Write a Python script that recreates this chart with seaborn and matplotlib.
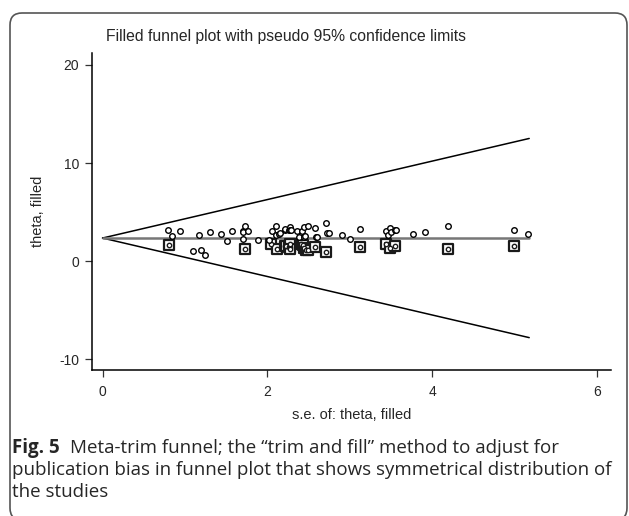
import matplotlib
matplotlib.use('Agg')
import matplotlib.pyplot as plt
from matplotlib.patches import FancyBboxPatch
import seaborn as sns
import pandas as pd
import numpy as np

# observed studies (circles)
study_se = [0.80, 0.84, 0.94, 1.10, 1.17, 1.20, 1.24, 1.31, 1.44, 1.51, 1.57,
            1.70, 1.71, 1.73, 1.77, 1.70, 1.89, 2.02, 2.06, 2.11, 2.10, 2.14,
            2.16, 2.21, 2.22, 2.26, 2.27, 2.28, 2.29, 2.36, 2.38, 2.42, 2.44,
            2.45, 2.46, 2.49, 2.58, 2.59, 2.60, 2.71, 2.72, 2.75, 2.91, 3.00,
            3.12, 3.44, 3.47, 3.49, 3.50, 3.55, 3.56, 3.77, 3.91, 4.19, 5.00,
            5.17]
study_theta = [3.12, 2.60, 3.10, 0.98, 2.64, 1.15, 0.58, 2.94, 2.80, 2.03, 3.10,
               3.05, 3.00, 3.57, 3.05, 2.27, 2.20, 2.20, 3.08, 3.57, 2.67, 2.80,
               2.87, 3.20, 3.32, 3.15, 3.48, 3.22, 3.15, 3.02, 2.47, 3.10, 2.50,
               3.48, 2.54, 3.62, 3.38, 2.47, 2.50, 3.89, 2.91, 2.91, 2.64, 2.30,
               3.32, 3.08, 2.67, 3.42, 2.97, 3.18, 3.20, 2.81, 2.97, 3.62, 3.18,
               2.81]

# filled (imputed) studies (squares)
filled_se = [0.81, 1.73, 2.05, 2.12, 2.21, 2.23, 2.26, 2.27, 2.28, 2.28, 2.41,
             2.43, 2.44, 2.47, 2.49, 2.58, 2.71, 3.12, 3.44, 3.49, 3.55, 4.19,
             5.00]
filled_theta = [1.66, 1.22, 1.73, 1.22, 1.52, 1.55, 1.39, 1.45, 1.73, 1.19, 1.73,
                1.62, 1.29, 1.12, 1.12, 1.39, 0.88, 1.45, 1.73, 1.29, 1.55, 1.19,
                1.55]

pooled_theta = 2.35
se_max = 5.18

x_ticks = [0, 2, 4, 6]
y_ticks = [-10, 0, 10, 20]

sns.set_theme(style='ticks')
plt.rcParams['font.family'] = ['Liberation Sans', 'DejaVu Sans']
plt.rcParams['axes.unicode_minus'] = False

fig = plt.figure(figsize=(6.29, 5.16), dpi=100)
ax = fig.add_axes([0.146, 0.283, 0.825, 0.614])

studies = pd.DataFrame({'se': study_se, 'theta': study_theta})
filled = pd.DataFrame({'se': filled_se, 'theta': filled_theta})

# pseudo 95% limits
se_grid = np.array([0, se_max])
limits = pd.DataFrame({
    'se': np.concatenate([se_grid, se_grid, se_grid]),
    'theta': np.concatenate([pooled_theta + 1.96 * se_grid,
                             pooled_theta - 1.96 * se_grid,
                             np.full(2, pooled_theta)]),
    'line': ['upper'] * 2 + ['lower'] * 2 + ['centre'] * 2,
})
sns.lineplot(data=limits[limits.line != 'centre'], x='se', y='theta', units='line',
             estimator=None, color='black', linewidth=1.1, ax=ax)
sns.lineplot(data=limits[limits.line == 'centre'], x='se', y='theta',
             estimator=None, color='#777777', linewidth=1.8, ax=ax)

sns.scatterplot(data=filled, x='se', y='theta', marker='s', s=45,
                facecolor='white', edgecolor='#1a1a1a', linewidth=1.6, ax=ax, zorder=3)
sns.scatterplot(data=filled, x='se', y='theta', marker='o', s=10,
                facecolor='white', edgecolor='#1a1a1a', linewidth=1.0, ax=ax, zorder=4)
sns.scatterplot(data=studies, x='se', y='theta', marker='o', s=16,
                facecolor='white', edgecolor='black', linewidth=1.0, ax=ax, zorder=4)

ax.set_xlim(-0.13, 6.17)
ax.set_ylim(-11.1, 21.2)
ax.set_xticks(x_ticks)
ax.set_yticks(y_ticks)
ax.tick_params(axis='both', labelsize=10, length=5, width=0.9, color='#333333')
ax.tick_params(axis='x', pad=6)
ax.tick_params(axis='y', pad=4)
for side in ['left', 'bottom']:
    ax.spines[side].set_linewidth(1.1)
    ax.spines[side].set_color('black')
sns.despine(ax=ax)
ax.set_xlabel('s.e. of: theta, filled', fontsize=10.5, labelpad=6)
ax.set_ylabel('theta, filled', fontsize=10.5, labelpad=10)

fig.text(106 / 629, 1 - 36 / 516, 'Filled funnel plot with pseudo 95% confidence limits',
         fontsize=11.3, va='center', ha='left')

# caption
cap_font = ['Open Sans', 'DejaVu Sans']
cap_size = 13.5
fig_lbl = fig.text(12 / 629, 1 - 448 / 516, 'Fig. 5', fontsize=cap_size,
                   fontweight='bold', family=cap_font, va='center', ha='left')
renderer = fig.canvas.get_renderer()
lbl_end = fig_lbl.get_window_extent(renderer).x1
fig.text((lbl_end + 10) / 629, 1 - 448 / 516,
         'Meta-trim funnel; the \u201ctrim and fill\u201d method to adjust for',
         fontsize=cap_size, family=cap_font, va='center', ha='left')
fig.text(12 / 629, 1 - 470 / 516,
         'publication bias in funnel plot that shows symmetrical distribution of',
         fontsize=cap_size, family=cap_font, va='center', ha='left')
fig.text(12 / 629, 1 - 492 / 516, 'the studies', fontsize=cap_size, family=cap_font,
         va='center', ha='left')

# rounded frame around figure
frame = FancyBboxPatch((10, -4), 617, 516 - 13 + 4,
                       boxstyle='round,pad=0,rounding_size=12', transform=None,
                       fill=False, edgecolor='#555555', linewidth=1.2)
fig.patches.append(frame)

fig.savefig('out.png', dpi=100)
